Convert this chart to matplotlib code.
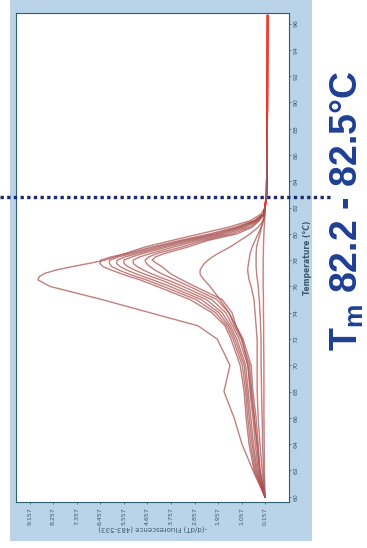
import matplotlib
matplotlib.use('Agg')
import matplotlib.pyplot as plt
from matplotlib.patches import Rectangle
from matplotlib.lines import Line2D

plt.rcParams['mathtext.fontset'] = 'custom'
plt.rcParams['mathtext.bf'] = 'Liberation Sans:bold'
plt.rcParams['mathtext.rm'] = 'Liberation Sans'

# Melt peak data: temperature grid (°C) and -(d/dT) fluorescence per sample
temps = [60, 62, 64, 66, 68, 70, 72, 73, 74, 75,
         76, 76.5, 76.75, 77, 77.25, 77.5, 77.75, 78, 78.25, 78.5,
         79, 79.5, 80, 80.5, 81, 81.5, 82, 83, 86, 90, 96.6]

curve_a = [0.16, 0.62, 1.04, 1.34, 1.73, 1.50, 1.99, 2.72, 4.56, 6.40,
           8.39, 8.85, 8.80, 8.58, 8.15, 7.55, 6.90, 6.28, 5.90, 5.52,
           4.75, 3.72, 2.65, 1.57, 0.73, 0.31, 0.16, 0.10, 0.08, 0.07, 0.06]
curve_b = [0.16, 0.58, 0.77, 0.88, 0.96, 1.11, 1.46, 1.69, 2.19, 3.03,
           4.29, 4.94, 5.35, 5.71, 6.05, 6.36, 6.48, 6.44, 6.05, 5.44,
           4.48, 3.41, 2.26, 1.31, 0.58, 0.23, 0.16, 0.10, 0.08, 0.07, 0.06]
curve_c = [0.16, 0.54, 0.71, 0.82, 0.90, 1.03, 1.38, 1.62, 2.05, 2.80,
           4.05, 4.70, 5.10, 5.45, 5.75, 6.02, 6.12, 6.10, 5.75, 5.25,
           4.30, 3.25, 2.10, 1.20, 0.55, 0.22, 0.16, 0.10, 0.08, 0.07, 0.06]
curve_d = [0.16, 0.50, 0.65, 0.76, 0.85, 0.96, 1.31, 1.55, 1.92, 2.60,
           3.80, 4.45, 4.82, 5.15, 5.45, 5.70, 5.84, 5.82, 5.50, 5.05,
           4.10, 3.08, 1.95, 1.10, 0.52, 0.21, 0.16, 0.10, 0.08, 0.07, 0.06]
curve_e = [0.16, 0.46, 0.60, 0.70, 0.80, 0.90, 1.24, 1.48, 1.80, 2.40,
           3.55, 4.15, 4.52, 4.85, 5.15, 5.40, 5.56, 5.56, 5.25, 4.85,
           3.90, 2.90, 1.80, 1.00, 0.48, 0.21, 0.16, 0.10, 0.08, 0.07, 0.06]
curve_f = [0.16, 0.42, 0.53, 0.62, 0.73, 0.82, 1.15, 1.40, 1.66, 2.20,
           3.30, 3.90, 4.24, 4.55, 4.82, 5.05, 5.20, 5.21, 4.95, 4.55,
           3.65, 2.70, 1.62, 0.88, 0.45, 0.20, 0.16, 0.10, 0.08, 0.07, 0.06]
curve_g = [0.16, 0.38, 0.47, 0.56, 0.67, 0.75, 1.07, 1.33, 1.54, 2.00,
           3.05, 3.60, 3.88, 4.15, 4.38, 4.55, 4.70, 4.75, 4.60, 4.30,
           3.35, 2.50, 1.42, 0.75, 0.40, 0.20, 0.16, 0.10, 0.08, 0.07, 0.06]
curve_h = [0.16, 0.35, 0.42, 0.50, 0.62, 0.69, 1.00, 1.27, 1.42, 1.80,
           2.84, 3.34, 3.58, 3.80, 3.95, 4.10, 4.30, 4.48, 4.35, 4.02,
           3.11, 2.34, 1.23, 0.65, 0.38, 0.20, 0.16, 0.10, 0.08, 0.07, 0.06]
curve_i = [0.16, 0.35, 0.46, 0.58, 0.69, 0.81, 1.04, 1.27, 1.54, 1.88,
           2.26, 2.49, 2.59, 2.65, 2.64, 2.57, 2.48, 2.34, 2.17, 1.96,
           1.50, 1.11, 0.73, 0.42, 0.23, 0.18, 0.16, 0.10, 0.08, 0.07, 0.06]
curve_j = [0.16, 0.27, 0.35, 0.42, 0.46, 0.46, 0.46, 0.50, 0.54, 0.58,
           0.69, 0.77, 0.79, 0.81, 0.82, 0.81, 0.79, 0.77, 0.75, 0.73,
           0.65, 0.54, 0.42, 0.31, 0.23, 0.18, 0.16, 0.10, 0.08, 0.07, 0.06]
curve_k = [0.16, 0.22, 0.25, 0.27, 0.29, 0.31, 0.31, 0.33, 0.35, 0.38,
           0.42, 0.45, 0.47, 0.48, 0.49, 0.50, 0.50, 0.50, 0.50, 0.50,
           0.48, 0.42, 0.35, 0.29, 0.22, 0.18, 0.16, 0.10, 0.08, 0.07, 0.06]
curve_l = [0.16, 0.18, 0.19, 0.20, 0.20, 0.20, 0.21, 0.21, 0.22, 0.22,
           0.23, 0.23, 0.23, 0.23, 0.23, 0.23, 0.23, 0.23, 0.23, 0.22,
           0.22, 0.21, 0.20, 0.19, 0.17, 0.16, 0.15, 0.10, 0.08, 0.07, 0.06]

curves = [curve_a, curve_b, curve_c, curve_d, curve_e, curve_f, curve_g,
          curve_h, curve_i, curve_j, curve_k, curve_l]

fluor_ticks = [0.157, 1.057, 1.957, 2.857, 3.757, 4.657, 5.557, 6.457, 7.357, 8.257, 9.157]
fluor_labels = ['0.157', '1.057', '1.957', '2.857', '3.757', '4.657', '5.557', '6.457',
                '7.357', '8.257', '9.157']
temp_ticks = [60, 62, 64, 66, 68, 70, 72, 74, 76, 78, 80, 82, 84, 86, 88, 90, 92, 94, 96]

fig = plt.figure(figsize=(3.67, 5.48), dpi=100)

# light blue software panel behind the plot
fig.patches.append(Rectangle((0.0272, 0.0128), 0.823, 0.987, transform=fig.transFigure,
                             facecolor='#b9d3e8', edgecolor='none', zorder=-5))

# plot is turned on its side: fluorescence runs right-to-left, temperature upward
ax = fig.add_axes([0.0436, 0.0839, 0.7439, 0.8924])
ax.set_zorder(2)
ax.set_facecolor('white')

for c in curves:
    ax.plot(c, temps, color='#ee2a1a', lw=1.1, alpha=0.5, solid_joinstyle='round')
    ax.plot(c, temps, color='#62808f', lw=0.4, alpha=0.85, solid_joinstyle='round')

ax.set_xlim(9.69, -0.76)
ax.set_ylim(59.6, 96.8)

ax.set_xticks(fluor_ticks)
ax.set_xticklabels(fluor_labels, rotation=90, fontsize=4.5, color='#3a5a6a')
ax.set_yticks(temp_ticks)
ax.yaxis.tick_right()
ax.set_yticklabels([str(t) for t in temp_ticks], rotation=90, fontsize=4.5,
                   color='#3a5a6a', va='center')
ax.tick_params(length=1.5, width=0.5, color='#3a5a6a', pad=2)

ax.set_xlabel('-(d/dT) Fluorescence (483-533)', rotation=180, fontsize=5,
              color='#3a5a6a', labelpad=0.5)
ax.yaxis.set_label_position('right')
ax.set_ylabel('Temperature (°C)', rotation=90, fontsize=5.5, fontweight='bold',
              color='#3a5a6a', labelpad=3)

for s in ax.spines.values():
    s.set_color('#2f5f6f')
    s.set_linewidth(0.8)

# dotted marker across at the melting point
fig.add_artist(Line2D([0.0, 333 / 367], [1 - 197 / 548, 1 - 197 / 548], transform=fig.transFigure,
                      color='#1b2a6b', lw=2.4, linestyle=(0, (1, 1)), dash_capstyle='butt',
                      zorder=5))

fig.text(347 / 367, 1 - 211 / 548, r'$\mathbf{T_m}$ 82.2 - 82.5°C', rotation=90,
         ha='center', va='center', fontsize=27, fontweight='bold', color='#1f3f94',
         family='Liberation Sans')

fig.savefig('out.png', dpi=100, facecolor='white')
